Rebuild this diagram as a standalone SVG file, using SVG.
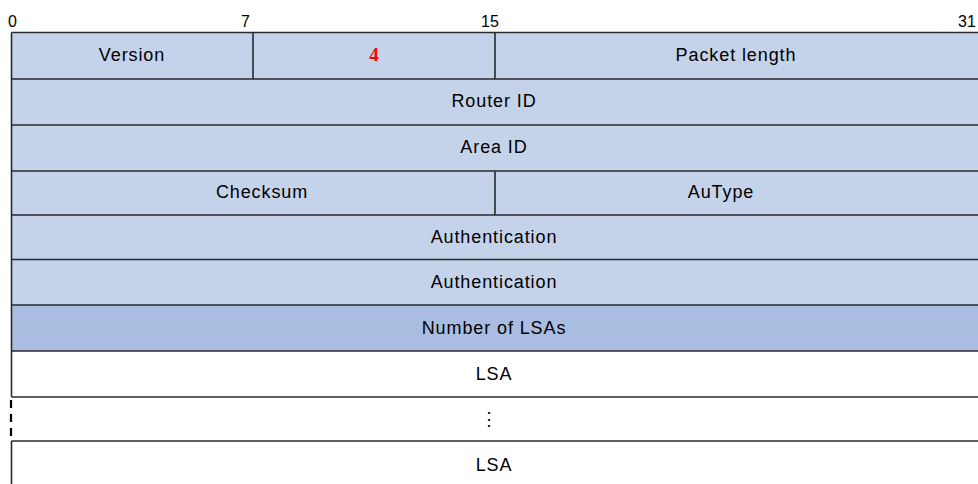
<svg xmlns="http://www.w3.org/2000/svg" width="978" height="484" viewBox="0 0 978 484">
<style>
.t{font-family:"Liberation Sans",Arial,sans-serif;font-size:18px;letter-spacing:0.9px;fill:#000;text-anchor:middle}
.h{font-family:"Liberation Sans",Arial,sans-serif;font-size:16px;fill:#000}
.f1{fill:#c5d3ea}
.f2{fill:#a9bde0}
.ln{stroke:#2a2a2a;stroke-width:1.6;fill:none}
</style>
<rect width="978" height="484" fill="#fff"/>
<g id="scale">
<text class="h" x="8" y="27">0</text>
<text class="h" x="241" y="27">7</text>
<text class="h" x="481" y="27">15</text>
<text class="h" x="958" y="27">31</text>
</g>
<g id="row-version">
<rect class="f1" x="11.5" y="32.5" width="250" height="46.5"/>
<text class="t" x="132" y="61">Version</text>
</g>
<g id="row-type">
<rect class="f1" x="253" y="32.5" width="242" height="46.5"/>
<text x="374" y="61" font-family="'Liberation Serif',serif" font-weight="bold" font-size="19" fill="#ff0000" text-anchor="middle">4</text>
</g>
<g id="row-length">
<rect class="f1" x="495" y="32.5" width="490" height="46.5"/>
<text class="t" x="736" y="61">Packet length</text>
</g>
<g id="row-router">
<rect class="f1" x="11.5" y="79" width="970" height="46"/>
<text class="t" x="494" y="107">Router ID</text>
</g>
<g id="row-area">
<rect class="f1" x="11.5" y="125" width="970" height="46"/>
<text class="t" x="494" y="153">Area ID</text>
</g>
<g id="row-checksum">
<rect class="f1" x="11.5" y="171" width="484" height="44"/>
<text class="t" x="262" y="198">Checksum</text>
</g>
<g id="row-autype">
<rect class="f1" x="495" y="171" width="490" height="44"/>
<text class="t" x="721" y="198">AuType</text>
</g>
<g id="row-auth1">
<rect class="f1" x="11.5" y="215" width="970" height="44.5"/>
<text class="t" x="494" y="243">Authentication</text>
</g>
<g id="row-auth2">
<rect class="f1" x="11.5" y="259.5" width="970" height="45.5"/>
<text class="t" x="494" y="288">Authentication</text>
</g>
<g id="row-nlsa">
<rect class="f2" x="11.5" y="305" width="970" height="46"/>
<text class="t" x="494" y="334">Number of LSAs</text>
</g>
<g id="row-lsa1">
<text class="t" x="494" y="380">LSA</text>
</g>
<g id="row-dots">
<text class="t" x="489" y="425" font-size="14" fill="#555">⋮</text>
</g>
<g id="row-lsa2">
<text class="t" x="494" y="471">LSA</text>
</g>
<g id="connectors">
<path class="ln" d="M11.5 32.5H985M11.5 79H985M11.5 125H985M11.5 171H985M11.5 215H985M11.5 259.5H985M11.5 305H985M11.5 351H985M11.5 397H985M11.5 441H985"/>
<path class="ln" d="M11.5 32.5V397M11.5 441V490M253 32.5V79M495 32.5V79M495 171V215"/>
<path d="M11 400V441" stroke="#000" stroke-width="2.2" stroke-dasharray="8,6" fill="none"/>
</g>
</svg>
